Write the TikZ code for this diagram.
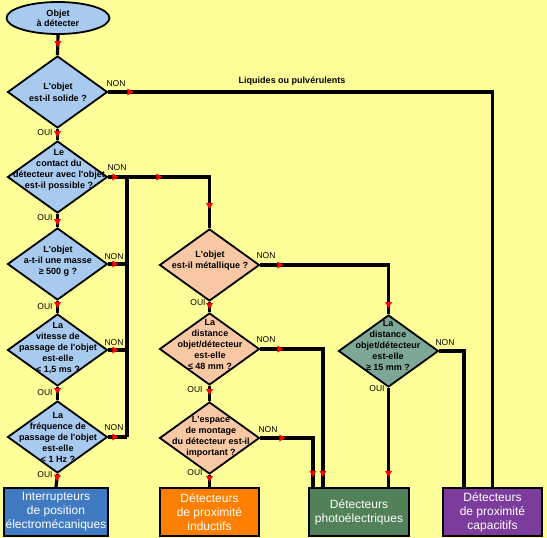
\documentclass[tikz,border=0pt]{standalone}
\usepackage{fontspec}
\newfontfamily\arial{Liberation Sans}
\usetikzlibrary{shapes.geometric,decorations.markings,calc}
\definecolor{bg}{RGB}{255,255,153}
\definecolor{qblue}{RGB}{168,202,238}
\definecolor{qorange}{RGB}{248,200,165}
\definecolor{qgreen}{RGB}{126,168,150}
\definecolor{bblue}{RGB}{64,122,192}
\definecolor{borange}{RGB}{255,128,0}
\definecolor{bgreen}{RGB}{82,128,88}
\definecolor{bpurple}{RGB}{124,60,156}
\newcommand\redtri{\fill[red] (-6pt,-3.5pt) -- (0pt,0pt) -- (-6pt,3.5pt) -- cycle;}
\begin{document}
\begin{tikzpicture}[x=1pt,y=-1pt,line join=miter,
  flow/.style={line width=3.2pt,draw=black},
  am/.style={postaction={decorate,decoration={markings,mark=at position #1 with {\redtri}}}},
  dia/.style={shape=diamond,draw=black,line width=1.8pt,minimum width=100pt,minimum height=72pt,inner sep=0pt},
  qtext/.style={font=\arial\bfseries\fontsize{9}{11}\selectfont,align=center,inner sep=0pt},
  lab/.style={font=\arial\fontsize{8.5}{9}\selectfont,inner sep=0pt},
  box/.style={draw=black,line width=2.2pt,minimum width=100pt,minimum height=48pt,inner sep=0pt,text=white,align=center,font=\arial\fontsize{12}{14}\selectfont}
]
\useasboundingbox (0,0) rectangle (547,538);
\fill[bg] (0,0) rectangle (547,538);

% start
\node[ellipse,draw=black,line width=1.8pt,fill=qblue,minimum width=103pt,minimum height=32pt,inner sep=0pt,
      font=\arial\bfseries\fontsize{9}{10}\selectfont,align=center] (e) at (58,18) {Objet\\à détecter};

% left column diamonds
\node[dia,fill=qblue] (d1) at (57.5,92) {};
\node[dia,fill=qblue] (d2) at (57.5,177) {};
\node[dia,fill=qblue] (d3) at (57.5,264) {};
\node[dia,fill=qblue] (d4) at (57.5,350) {};
\node[dia,fill=qblue] (d5) at (57.5,437) {};
\node[qtext] (t1) at (58,92) {L'objet\\[1pt]est-il solide ?};
\node[qtext] (t2) at (59,170) {Le\\contact du\\détecteur avec l'objet\\est-il possible ?};
\node[qtext] (t3) at (58,261) {L'objet\\a-t-il une masse\\≥ 500 g ?};
\node[qtext] (t4) at (58,348) {La\\vitesse de\\passage de l'objet\\est-elle\\< 1,5 ms ?};
\node[qtext] (t5) at (58,437) {La\\fréquence de\\passage de l'objet\\est-elle\\< 1 Hz ?};

% middle column diamonds
\node[dia,fill=qorange] (m1) at (209.5,265) {};
\node[dia,fill=qorange] (m2) at (209.5,349) {};
\node[dia,fill=qorange] (m3) at (209.5,438) {};
\node[qtext] (u1) at (210,261) {L'objet\\est-il métallique ?};
\node[qtext] (u2) at (210,344) {La\\distance\\objet/détecteur\\est-elle\\≤ 48 mm ?};
\node[qtext] (u3) at (211,437) {L'espace\\de montage\\du détecteur est-il\\important ?};

% right diamond
\node[dia,fill=qgreen] (g) at (388.5,351) {};
\node[qtext] (v1) at (388,345) {La\\distance\\objet/détecteur\\est-elle\\≥ 15 mm ?};

% result boxes
\node[box,fill=bblue,minimum width=104pt] (b1) at (56,512) {Interrupteurs\\de position\\électromécaniques};
\node[box,fill=borange,minimum width=99pt] (ob) at (209.5,512) {Détecteurs\\de proximité\\inductifs};
\node[box,fill=bgreen,minimum width=100pt] (ph) at (359,512) {Détecteurs\\photoélectriques};
\node[box,fill=bpurple,minimum width=99pt] (cap) at (492.5,512) {Détecteurs\\de proximité\\capacitifs};

\coordinate (col) at (127,177);

% connectors, left column
\draw[flow,am=-8pt] (e.south) -- (d1.north);
\draw[flow,am=-3pt] (d1.south) -- (d2.north);
\draw[flow,am=-2pt] (d2.south) -- (d3.north);
\draw[flow,am=-5pt] (d3.south) -- (d4.north);
\draw[flow,am=-6pt] (d4.south) -- (d5.north);
\draw[flow,am=-6pt] (d5.south) -- (b1.north);
\draw[flow,am=25pt] (d1.east) -| (cap.north);
\draw[flow] (d5.east -| col) -- (col);
\draw[flow,am=10pt,am=54pt,am=-19pt] (d2.east) -| (m1.north);
\draw[flow,am=10pt] (d3.east) -- (d3.east -| col);
\draw[flow,am=10pt] (d4.east) -- (d4.east -| col);
\draw[flow,am=10pt] (d5.east) -- (d5.east -| col);

% middle column
\draw[flow,am=-3pt] (m1.south) -- (m2.north);
\draw[flow,am=-6pt] (m2.south) -- (m3.north);
\draw[flow,am=-5pt] (m3.south) -- (ob.north);
\draw[flow,am=23pt,am=-6pt] (m1.east) -| (g.north);
\draw[flow,am=23pt,am=-10pt] (m2.east) -| ([xshift=15pt]ph.north west);
\draw[flow,am=25pt,am=-10pt] (m3.east) -| ([xshift=5pt]ph.north west);

% right
\draw[flow,am=-10pt] (g.south) -- (g.south |- ph.north);
\draw[flow] (g.east) -| ([xshift=22pt]cap.north west);

% labels
\node[qtext] (liq) at (292,81) {Liquides ou pulvérulents};
\node[lab] (n1) at (116,84) {NON};
\node[lab] (n2) at (117,168) {NON};
\node[lab] (n3) at (114,257) {NON};
\node[lab] (n4) at (114,343) {NON};
\node[lab] (n5) at (114,428) {NON};
\node[lab] (o1) at (45,133) {OUI};
\node[lab] (o2) at (45,218) {OUI};
\node[lab] (o3) at (45,307) {OUI};
\node[lab] (o4) at (45,393) {OUI};
\node[lab] (o5) at (45,475) {OUI};
\node[lab] (n6) at (266,256) {NON};
\node[lab] (n7) at (266,340) {NON};
\node[lab] (n8) at (268,430) {NON};
\node[lab] (o6) at (198,303) {OUI};
\node[lab] (o7) at (195,390) {OUI};
\node[lab] (o8) at (195,473) {OUI};
\node[lab] (n9) at (445,343) {NON};
\node[lab] (o9) at (377,389) {OUI};
\end{tikzpicture}
\end{document}
